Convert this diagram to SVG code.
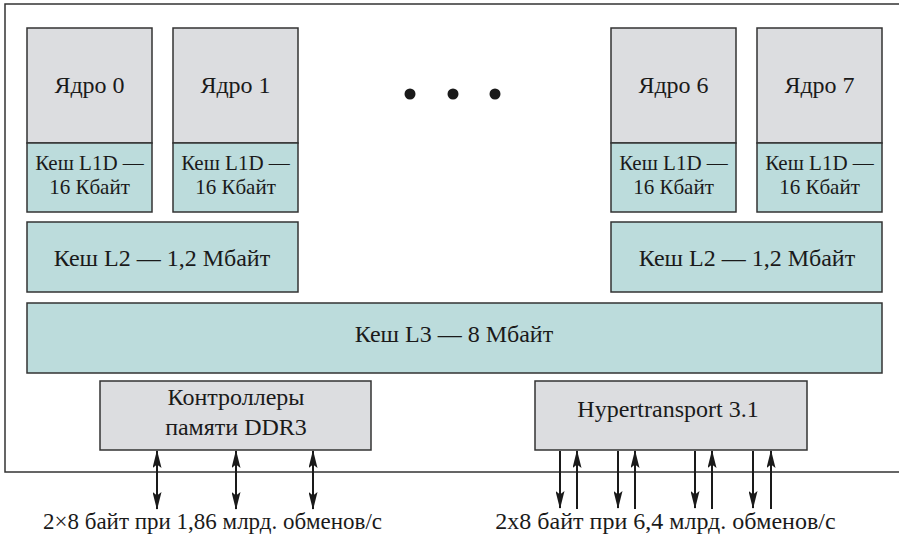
<svg xmlns="http://www.w3.org/2000/svg" width="899" height="539" viewBox="0 0 899 539">
<defs>
<style>
.core{fill:#dcdde0;stroke:#333;stroke-width:1.5}
.cache{fill:#bcdcdc;stroke:#333;stroke-width:1.5}
.frame{fill:#fff;stroke:#333;stroke-width:1.5}
.lbl{font-family:'Liberation Serif','Times New Roman',serif;fill:#1a1a1a;text-anchor:middle}
.t24{font-size:24px}
.t23{font-size:23px}
.t21{font-size:21px}
.ar{stroke:#1a1a1a;stroke-width:2;fill:none}
</style>
<marker id="ah" viewBox="0 0 20 10" refX="19" refY="5" markerWidth="21" markerHeight="9" markerUnits="userSpaceOnUse" orient="auto-start-reverse">
<path d="M0,0 L20,5 L0,10 L4,5 Z" fill="#1a1a1a"/>
</marker>
</defs>
<rect class="frame" x="5" y="4" width="900" height="468"/>
<g class="lbl">
<g id="core0">
<rect class="core" x="27" y="28" width="125" height="115"/>
<text class="t24" x="89.5" y="93">Ядро 0</text>
<rect class="cache" x="27" y="143" width="125" height="69"/>
<text class="t21" x="89.5" y="170">Кеш L1D —</text>
<text class="t21" x="89.5" y="194">16 Кбайт</text>
</g>
<g id="core1">
<rect class="core" x="173" y="28" width="125" height="115"/>
<text class="t24" x="235.5" y="93">Ядро 1</text>
<rect class="cache" x="173" y="143" width="125" height="69"/>
<text class="t21" x="235.5" y="170">Кеш L1D —</text>
<text class="t21" x="235.5" y="194">16 Кбайт</text>
</g>
<g id="core6">
<rect class="core" x="611" y="28" width="125" height="115"/>
<text class="t24" x="673.5" y="93">Ядро 6</text>
<rect class="cache" x="611" y="143" width="125" height="69"/>
<text class="t21" x="673.5" y="170">Кеш L1D —</text>
<text class="t21" x="673.5" y="194">16 Кбайт</text>
</g>
<g id="core7">
<rect class="core" x="757" y="28" width="125" height="115"/>
<text class="t24" x="819.5" y="93">Ядро 7</text>
<rect class="cache" x="757" y="143" width="125" height="69"/>
<text class="t21" x="819.5" y="170">Кеш L1D —</text>
<text class="t21" x="819.5" y="194">16 Кбайт</text>
</g>
<g id="dots" fill="#1a1a1a">
<circle cx="410" cy="94" r="5.5"/>
<circle cx="453" cy="94" r="5.5"/>
<circle cx="495" cy="94" r="5.5"/>
</g>
<g id="l2left">
<rect class="cache" x="27" y="222" width="271" height="70"/>
<text class="t24" x="162" y="266">Кеш L2 — 1,2 Мбайт</text>
</g>
<g id="l2right">
<rect class="cache" x="611" y="222" width="271" height="70"/>
<text class="t24" x="747" y="266">Кеш L2 — 1,2 Мбайт</text>
</g>
<g id="l3">
<rect class="cache" x="27" y="303" width="855" height="70"/>
<text class="t24" x="454" y="342">Кеш L3 — 8 Мбайт</text>
</g>
<g id="ddr3">
<rect class="core" x="100" y="381" width="271" height="69"/>
<text class="t24" x="236" y="405">Контроллеры</text>
<text class="t24" x="236" y="435">памяти DDR3</text>
</g>
<g id="ht">
<rect class="core" x="535" y="381" width="272" height="69"/>
<text class="t24" x="668" y="417">Hypertransport 3.1</text>
</g>
<text class="t23" x="212.5" y="529">2×8 байт при 1,86 млрд. обменов/с</text>
<text class="t24" x="665.5" y="529">2x8 байт при 6,4 млрд. обменов/с</text>
</g>
<g id="connectors">
<line class="ar" x1="157" y1="451" x2="157" y2="509" marker-start="url(#ah)" marker-end="url(#ah)"/>
<line class="ar" x1="236" y1="451" x2="236" y2="509" marker-start="url(#ah)" marker-end="url(#ah)"/>
<line class="ar" x1="313" y1="451" x2="313" y2="509" marker-start="url(#ah)" marker-end="url(#ah)"/>
<line class="ar" x1="560" y1="451" x2="560" y2="508" marker-end="url(#ah)"/>
<line class="ar" x1="577" y1="509" x2="577" y2="451" marker-end="url(#ah)"/>
<line class="ar" x1="618" y1="451" x2="618" y2="508" marker-end="url(#ah)"/>
<line class="ar" x1="635" y1="509" x2="635" y2="451" marker-end="url(#ah)"/>
<line class="ar" x1="695" y1="451" x2="695" y2="508" marker-end="url(#ah)"/>
<line class="ar" x1="712" y1="509" x2="712" y2="451" marker-end="url(#ah)"/>
<line class="ar" x1="753" y1="451" x2="753" y2="508" marker-end="url(#ah)"/>
<line class="ar" x1="771" y1="509" x2="771" y2="451" marker-end="url(#ah)"/>
</g>
</svg>
